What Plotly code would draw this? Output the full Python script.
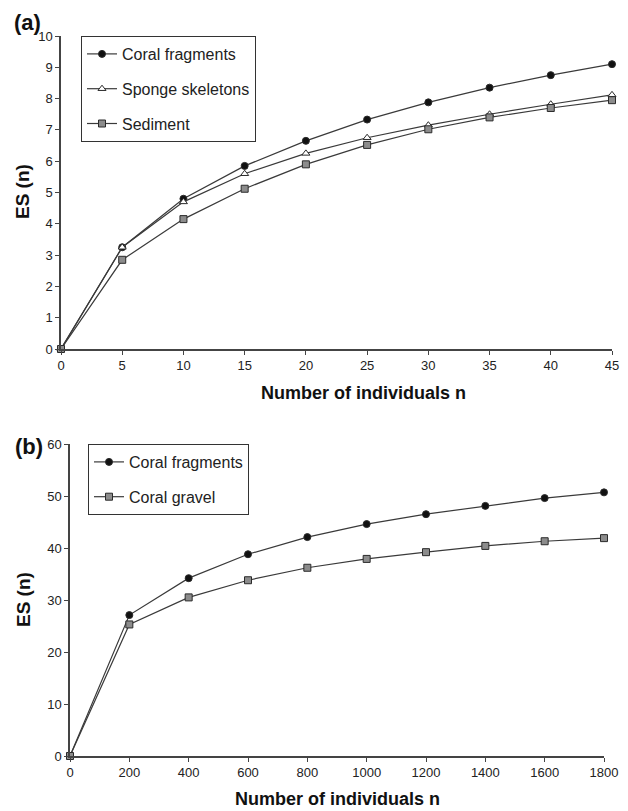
import plotly.graph_objects as go

# ---- Panel (a) data ----
n_a = [0, 5, 10, 15, 20, 25, 30, 35, 40, 45]
coral_frag_a = [0, 3.25, 4.8, 5.85, 6.65, 7.33, 7.88, 8.35, 8.75, 9.1]
sponge_a = [0, 3.25, 4.7, 5.6, 6.25, 6.75, 7.15, 7.5, 7.82, 8.12]
sediment_a = [0, 2.85, 4.15, 5.12, 5.9, 6.52, 7.02, 7.4, 7.7, 7.95]

# ---- Panel (b) data ----
n_b = [0, 200, 400, 600, 800, 1000, 1200, 1400, 1600, 1800]
coral_frag_b = [0, 27.1, 34.2, 38.8, 42.1, 44.6, 46.5, 48.1, 49.6, 50.7]
coral_gravel_b = [0, 25.3, 30.5, 33.8, 36.2, 37.9, 39.2, 40.4, 41.3, 41.9]

W, H = 628, 811
FONT = "Liberation Sans, Arial, sans-serif"
LINE = "#3a3a3a"
TXT = "#222222"

def px(x):
    return x / W

def py(y):
    return 1 - y / H

fig = go.Figure()

def add(x, y, name, symbol, fill, xa, ya, legend, size=7):
    fig.add_trace(go.Scatter(
        x=x, y=y, name=name, mode="lines+markers",
        line=dict(color=LINE, width=1.2),
        marker=dict(symbol=symbol, size=size, color=fill,
                    line=dict(color="#2a2a2a", width=1)),
        xaxis=xa, yaxis=ya, legend=legend, legendgroup=name + legend,
        cliponaxis=False,
    ))

add(n_a, coral_frag_a, "Coral fragments", "circle", "#111111", "x", "y", "legend")
add(n_a, sponge_a, "Sponge skeletons", "triangle-up", "#ffffff", "x", "y", "legend")
add(n_a, sediment_a, "Sediment", "square", "#8c8c8c", "x", "y", "legend")
add(n_b, coral_frag_b, "Coral fragments", "circle", "#111111", "x2", "y2", "legend2")
add(n_b, coral_gravel_b, "Coral gravel", "square", "#8c8c8c", "x2", "y2", "legend2")

axis_common = dict(
    showgrid=False, zeroline=False, showline=True, linecolor="#444444",
    linewidth=1.5, ticks="outside", ticklen=4, tickcolor="#444444",
    tickfont=dict(family=FONT, size=13, color=TXT), automargin=False,
)

legend_common = dict(
    xanchor="left", yanchor="top", bgcolor="rgba(255,255,255,1)",
    bordercolor="#333333", borderwidth=1,
    font=dict(family=FONT, size=16, color=TXT),
    traceorder="grouped", tracegroupgap=11, itemwidth=30,
)

fig.update_layout(
    width=W, height=H, margin=dict(l=0, r=0, t=0, b=0),
    paper_bgcolor="white", plot_bgcolor="white",
    font=dict(family=FONT, color=TXT),
    xaxis=dict(domain=[px(61), px(612)], range=[0, 45], dtick=5, anchor="y", **axis_common),
    yaxis=dict(domain=[py(349), py(36)], range=[0, 10], dtick=1, anchor="x", **axis_common),
    xaxis2=dict(domain=[px(70), px(604)], range=[0, 1800], dtick=200, anchor="y2", **axis_common),
    yaxis2=dict(domain=[py(756), py(444)], range=[0, 60], dtick=10, anchor="x2", **axis_common),
    legend=dict(x=px(81), y=py(36), **legend_common),
    legend2=dict(x=px(88), y=py(444), **legend_common),
    showlegend=True,
)

def ann(text, x, y, size, angle=0):
    fig.add_annotation(text=text, x=px(x), y=py(y), xref="paper", yref="paper",
                       showarrow=False, xanchor="center", yanchor="middle",
                       textangle=angle,
                       font=dict(family=FONT, size=size, color="#111111"))

ann("<b>(a)</b>", 28, 22, 22)
ann("<b>(b)</b>", 29, 446, 22)
ann("<b>ES (n)</b>", 22, 192, 19, -90)
ann("<b>ES (n)</b>", 23, 600, 19, -90)
ann("<b>Number of individuals n</b>", 363, 393, 18)
ann("<b>Number of individuals n</b>", 337, 799, 18)

fig.write_html(
    "out.html",
    config={"displayModeBar": False},
    post_script="document.body.style.margin='0';document.body.style.overflow='hidden';",
)
